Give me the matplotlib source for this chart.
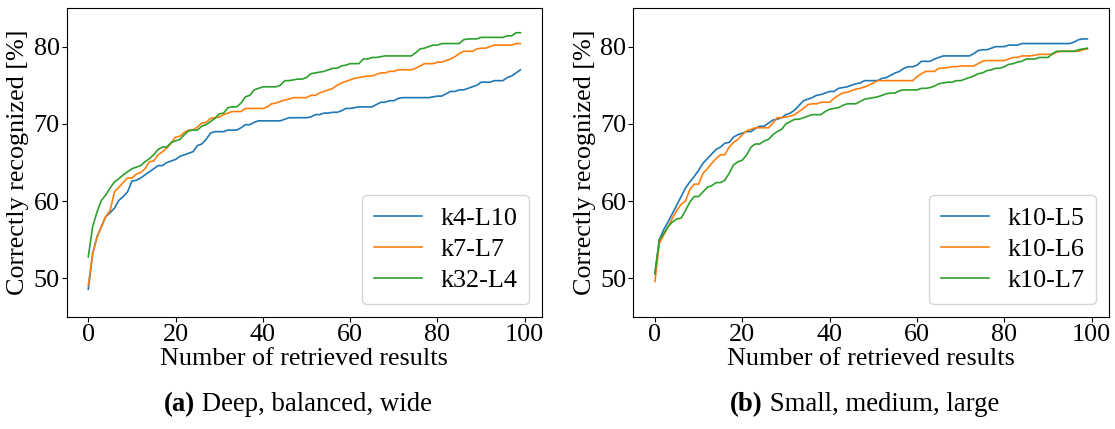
import matplotlib
matplotlib.use("Agg")
import matplotlib.pyplot as plt
import numpy as np

plt.rcParams['font.family'] = ['Liberation Serif', 'DejaVu Serif']

# ---- data ----
x_vals = list(range(100))

k4_L10 = [48.6, 53.2, 55.4, 56.7, 58.0, 58.5, 59.1, 60.1, 60.6, 61.2,
          62.6, 62.7, 63.0, 63.4, 63.8, 64.2, 64.6, 64.6, 65.0, 65.2,
          65.4, 65.8, 66.0, 66.2, 66.4, 67.2, 67.4, 68.0, 68.8, 69.0,
          69.0, 69.0, 69.2, 69.2, 69.2, 69.5, 69.9, 69.9, 70.2, 70.4,
          70.4, 70.4, 70.4, 70.4, 70.4, 70.6, 70.8, 70.8, 70.8, 70.8,
          70.8, 70.9, 71.2, 71.2, 71.4, 71.4, 71.5, 71.5, 71.7, 72.0,
          72.0, 72.1, 72.2, 72.2, 72.2, 72.2, 72.5, 72.8, 72.8, 73.0,
          73.0, 73.3, 73.4, 73.4, 73.4, 73.4, 73.4, 73.4, 73.4, 73.5,
          73.6, 73.6, 73.9, 74.2, 74.2, 74.4, 74.4, 74.6, 74.8, 75.0,
          75.4, 75.4, 75.4, 75.6, 75.6, 75.6, 76.0, 76.2, 76.6, 77.0]

k7_L7 = [49.1, 53.2, 55.3, 56.7, 58.0, 58.8, 61.2, 61.8, 62.4, 63.0,
         63.0, 63.5, 63.7, 64.2, 65.1, 65.2, 66.0, 66.4, 66.9, 67.5,
         68.3, 68.4, 68.9, 69.2, 69.2, 69.6, 70.1, 70.2, 70.7, 70.8,
         70.9, 71.2, 71.4, 71.6, 71.6, 71.6, 72.0, 72.0, 72.0, 72.0,
         72.0, 72.2, 72.6, 72.7, 72.9, 73.1, 73.2, 73.4, 73.4, 73.4,
         73.4, 73.7, 73.7, 74.0, 74.2, 74.4, 74.6, 75.0, 75.3, 75.5,
         75.7, 75.9, 76.0, 76.1, 76.2, 76.2, 76.4, 76.6, 76.6, 76.8,
         76.8, 77.0, 77.0, 77.0, 77.0, 77.2, 77.5, 77.8, 77.8, 77.8,
         78.0, 78.0, 78.2, 78.4, 78.7, 79.1, 79.4, 79.4, 79.4, 79.7,
         79.8, 79.8, 80.0, 80.2, 80.2, 80.2, 80.2, 80.2, 80.4, 80.4]

k32_L4 = [52.8, 56.7, 58.6, 60.1, 60.8, 61.7, 62.5, 62.9, 63.4, 63.8,
          64.2, 64.4, 64.6, 65.1, 65.5, 66.0, 66.7, 67.0, 67.0, 67.6,
          67.8, 68.0, 68.6, 69.1, 69.2, 69.2, 69.7, 69.9, 70.3, 70.7,
          71.3, 71.4, 72.1, 72.2, 72.2, 72.7, 73.5, 73.7, 74.4, 74.6,
          74.8, 74.8, 74.8, 74.8, 75.0, 75.6, 75.6, 75.7, 75.8, 75.8,
          76.0, 76.5, 76.6, 76.7, 76.8, 77.0, 77.2, 77.2, 77.5, 77.6,
          77.8, 77.8, 77.8, 78.4, 78.4, 78.6, 78.6, 78.7, 78.8, 78.8,
          78.8, 78.8, 78.8, 78.8, 78.8, 79.2, 79.7, 79.8, 80.0, 80.2,
          80.2, 80.4, 80.4, 80.4, 80.4, 80.4, 80.9, 81.0, 81.0, 81.0,
          81.2, 81.2, 81.2, 81.2, 81.2, 81.2, 81.4, 81.4, 81.8, 81.8]

k10_L5 = [50.6, 55.0, 56.3, 57.3, 58.4, 59.5, 60.6, 61.7, 62.5, 63.2,
          64.0, 64.9, 65.5, 66.1, 66.7, 67.0, 67.5, 67.6, 68.3, 68.6,
          68.8, 69.0, 69.0, 69.4, 69.7, 69.7, 70.1, 70.5, 70.6, 70.8,
          71.2, 71.4, 71.8, 72.4, 73.0, 73.2, 73.4, 73.7, 73.8, 74.0,
          74.2, 74.2, 74.6, 74.7, 74.8, 75.0, 75.2, 75.3, 75.6, 75.6,
          75.6, 75.6, 75.9, 76.0, 76.3, 76.6, 76.8, 77.2, 77.4, 77.4,
          77.6, 78.1, 78.1, 78.1, 78.4, 78.6, 78.8, 78.8, 78.8, 78.8,
          78.8, 78.8, 78.8, 79.1, 79.5, 79.6, 79.6, 79.8, 80.0, 80.0,
          80.0, 80.2, 80.2, 80.2, 80.4, 80.4, 80.4, 80.4, 80.4, 80.4,
          80.4, 80.4, 80.4, 80.4, 80.4, 80.4, 80.6, 80.9, 81.0, 81.0]

k10_L6 = [49.6, 54.5, 55.6, 56.6, 57.8, 58.8, 59.6, 60.0, 61.5, 62.2,
          62.2, 63.6, 64.2, 64.9, 65.5, 66.0, 66.0, 67.0, 67.6, 68.0,
          68.6, 69.1, 69.3, 69.5, 69.5, 69.5, 69.5, 70.1, 70.8, 70.8,
          70.9, 71.0, 71.2, 71.6, 72.0, 72.5, 72.6, 72.6, 72.8, 72.8,
          72.8, 73.3, 73.7, 74.0, 74.1, 74.3, 74.5, 74.6, 74.8, 75.0,
          75.3, 75.6, 75.6, 75.6, 75.6, 75.6, 75.6, 75.6, 75.6, 75.6,
          76.1, 76.5, 76.8, 76.8, 76.8, 77.2, 77.2, 77.3, 77.4, 77.4,
          77.5, 77.5, 77.5, 77.5, 77.8, 78.1, 78.2, 78.2, 78.2, 78.2,
          78.2, 78.4, 78.6, 78.6, 78.8, 78.8, 78.8, 78.9, 79.0, 79.0,
          79.0, 79.0, 79.3, 79.4, 79.4, 79.4, 79.4, 79.4, 79.6, 79.7]

k10_L7 = [50.6, 55.0, 55.8, 56.7, 57.3, 57.7, 57.8, 58.8, 59.9, 60.6,
          60.6, 61.2, 61.8, 62.0, 62.4, 62.4, 62.7, 63.6, 64.7, 65.1,
          65.3, 66.0, 67.0, 67.4, 67.4, 67.8, 68.0, 68.6, 69.0, 69.3,
          70.0, 70.3, 70.6, 70.6, 70.8, 71.0, 71.2, 71.2, 71.2, 71.6,
          71.9, 72.0, 72.1, 72.4, 72.6, 72.6, 72.6, 72.9, 73.2, 73.3,
          73.4, 73.5, 73.7, 73.9, 74.0, 74.0, 74.3, 74.4, 74.4, 74.4,
          74.4, 74.6, 74.6, 74.7, 74.9, 75.2, 75.3, 75.4, 75.4, 75.6,
          75.6, 75.8, 76.0, 76.2, 76.5, 76.6, 76.9, 77.0, 77.2, 77.2,
          77.4, 77.7, 77.8, 78.0, 78.1, 78.4, 78.4, 78.4, 78.6, 78.6,
          78.6, 79.1, 79.4, 79.4, 79.4, 79.4, 79.4, 79.6, 79.7, 79.8]

left_series = [("k4-L10", k4_L10), ("k7-L7", k7_L7), ("k32-L4", k32_L4)]
right_series = [("k10-L5", k10_L5), ("k10-L6", k10_L6), ("k10-L7", k10_L7)]
captions = [("(a)", " Deep, balanced, wide"), ("(b)", " Small, medium, large")]
xlabel = "Number of retrieved results"
ylabel = "Correctly recognized [%]"

colors = ["#1f77b4", "#ff7f0e", "#2ca02c"]
FS = 18.8

fig = plt.figure(figsize=(11.15, 4.29), dpi=100)
ax1 = fig.add_axes([0.0598, 0.261, 0.4263, 0.7203])
ax2 = fig.add_axes([0.568, 0.261, 0.4266, 0.7203])

for ax, series in [(ax1, left_series), (ax2, right_series)]:
    for (name, vals), c in zip(series, colors):
        ax.plot(x_vals, vals, color=c, lw=1.2, label=name)
    ax.set_ylim(45, 85)
    ax.set_xticks([0, 20, 40, 60, 80, 100])
    ax.set_yticks([50, 60, 70, 80])
    ax.tick_params(labelsize=FS, pad=1.5)
    ax.set_xlabel(xlabel, fontsize=FS, labelpad=1.5)
    ax.set_ylabel(ylabel, fontsize=FS, labelpad=3)
    ax.legend(loc="lower right", fontsize=FS, handlelength=1.85,
              borderpad=0.45, labelspacing=0.3, handletextpad=0.7,
              borderaxespad=0.5)

# captions
fig.canvas.draw()
r = fig.canvas.get_renderer()
for ax, (bold, rest) in zip([ax1, ax2], captions):
    pos = ax.get_position()
    cx = (pos.x0 + pos.x1) / 2 - 0.006
    tb = fig.text(0, 0.056, bold, fontsize=FS + 0.5, fontweight="bold", va="center")
    tr = fig.text(0, 0.056, rest, fontsize=FS + 0.5, va="center")
    wb = tb.get_window_extent(r).width / fig.bbox.width
    wr = tr.get_window_extent(r).width / fig.bbox.width
    x0 = cx - (wb + wr) / 2
    tb.set_x(x0)
    tr.set_x(x0 + wb)

fig.savefig("out.png", dpi=100)
